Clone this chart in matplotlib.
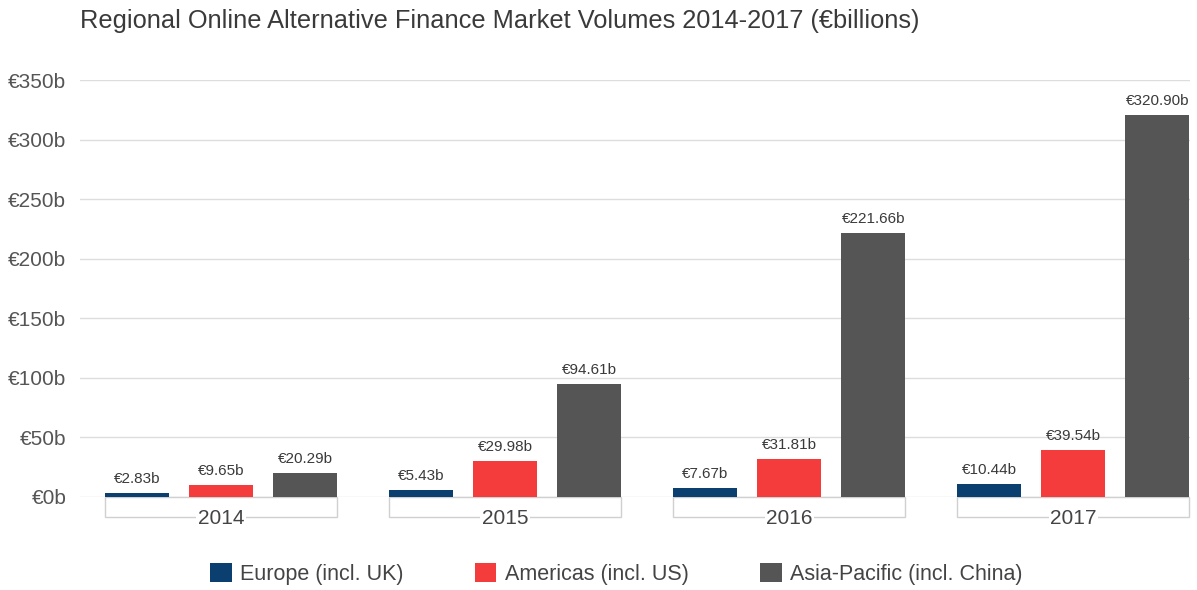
import matplotlib.pyplot as plt
from matplotlib.patches import Rectangle, Patch

years = ['2014', '2015', '2016', '2017']
europe = [2.83, 5.43, 7.67, 10.44]
americas = [9.65, 29.98, 31.81, 39.54]
asia = [20.29, 94.61, 221.66, 320.90]
series_names = ['Europe (incl. UK)', 'Americas (incl. US)', 'Asia-Pacific (incl. China)']
colors = ['#0b3f6f', '#f43c3c', '#555555']
yticks = [0, 50, 100, 150, 200, 250, 300, 350]

plt.rcParams['font.family'] = ['Liberation Sans', 'DejaVu Sans']

fig = plt.figure(figsize=(11.97, 5.90), dpi=100)
ax = fig.add_axes([0.067, 0.158, 0.927, 0.706])

width = 0.225
step = 0.296
for i, (vals, col) in enumerate(zip([europe, americas, asia], colors)):
    xs = [g + (i - 1) * step for g in range(len(years))]
    ax.bar(xs, vals, width=width, color=col, zorder=3)
    for x, v in zip(xs, vals):
        ax.annotate('€%.2fb' % v, (x, v), xytext=(0, 5), textcoords='offset points',
                    ha='center', va='bottom', fontsize=11, color='#3a3a3a')

# category boxes under each group
for g, yr in enumerate(years):
    left = g - step - width / 2
    w = 2 * step + width
    rect = Rectangle((left, 0), w, -17, facecolor='white', edgecolor='#d0d0d0',
                     lw=1, clip_on=False, zorder=2)
    ax.add_patch(rect)
    ax.text(g, -18, yr, ha='center', va='center', fontsize=15, color='#444444',
            bbox=dict(facecolor='white', edgecolor='none', pad=1), zorder=4, clip_on=False)

ax.set_xlim(-0.496, 3.41)
ax.set_ylim(0, 350)
ax.set_yticks(yticks)
ax.set_yticklabels(['€%db' % t for t in yticks], fontsize=15, color='#555555')
ax.set_xticks([])
ax.tick_params(axis='y', length=0, pad=10)
ax.grid(axis='y', color='#dddddd', lw=1, zorder=0)
for s in ax.spines.values():
    s.set_visible(False)

fig.text(0.067, 0.964, 'Regional Online Alternative Finance Market Volumes 2014-2017 (€billions)',
         fontsize=18.3, color='#3a3a3a', ha='left', va='center')

handles = [Patch(facecolor=c, label=n) for c, n in zip(colors, series_names)]
fig.legend(handles=handles, loc='center', bbox_to_anchor=(0.515, 0.027), ncol=3, frameon=False,
           fontsize=15.5, handlelength=1.0, handleheight=1.0, columnspacing=3.3,
           handletextpad=0.4, labelcolor='#444444')

fig.savefig('out.png', dpi=100)
